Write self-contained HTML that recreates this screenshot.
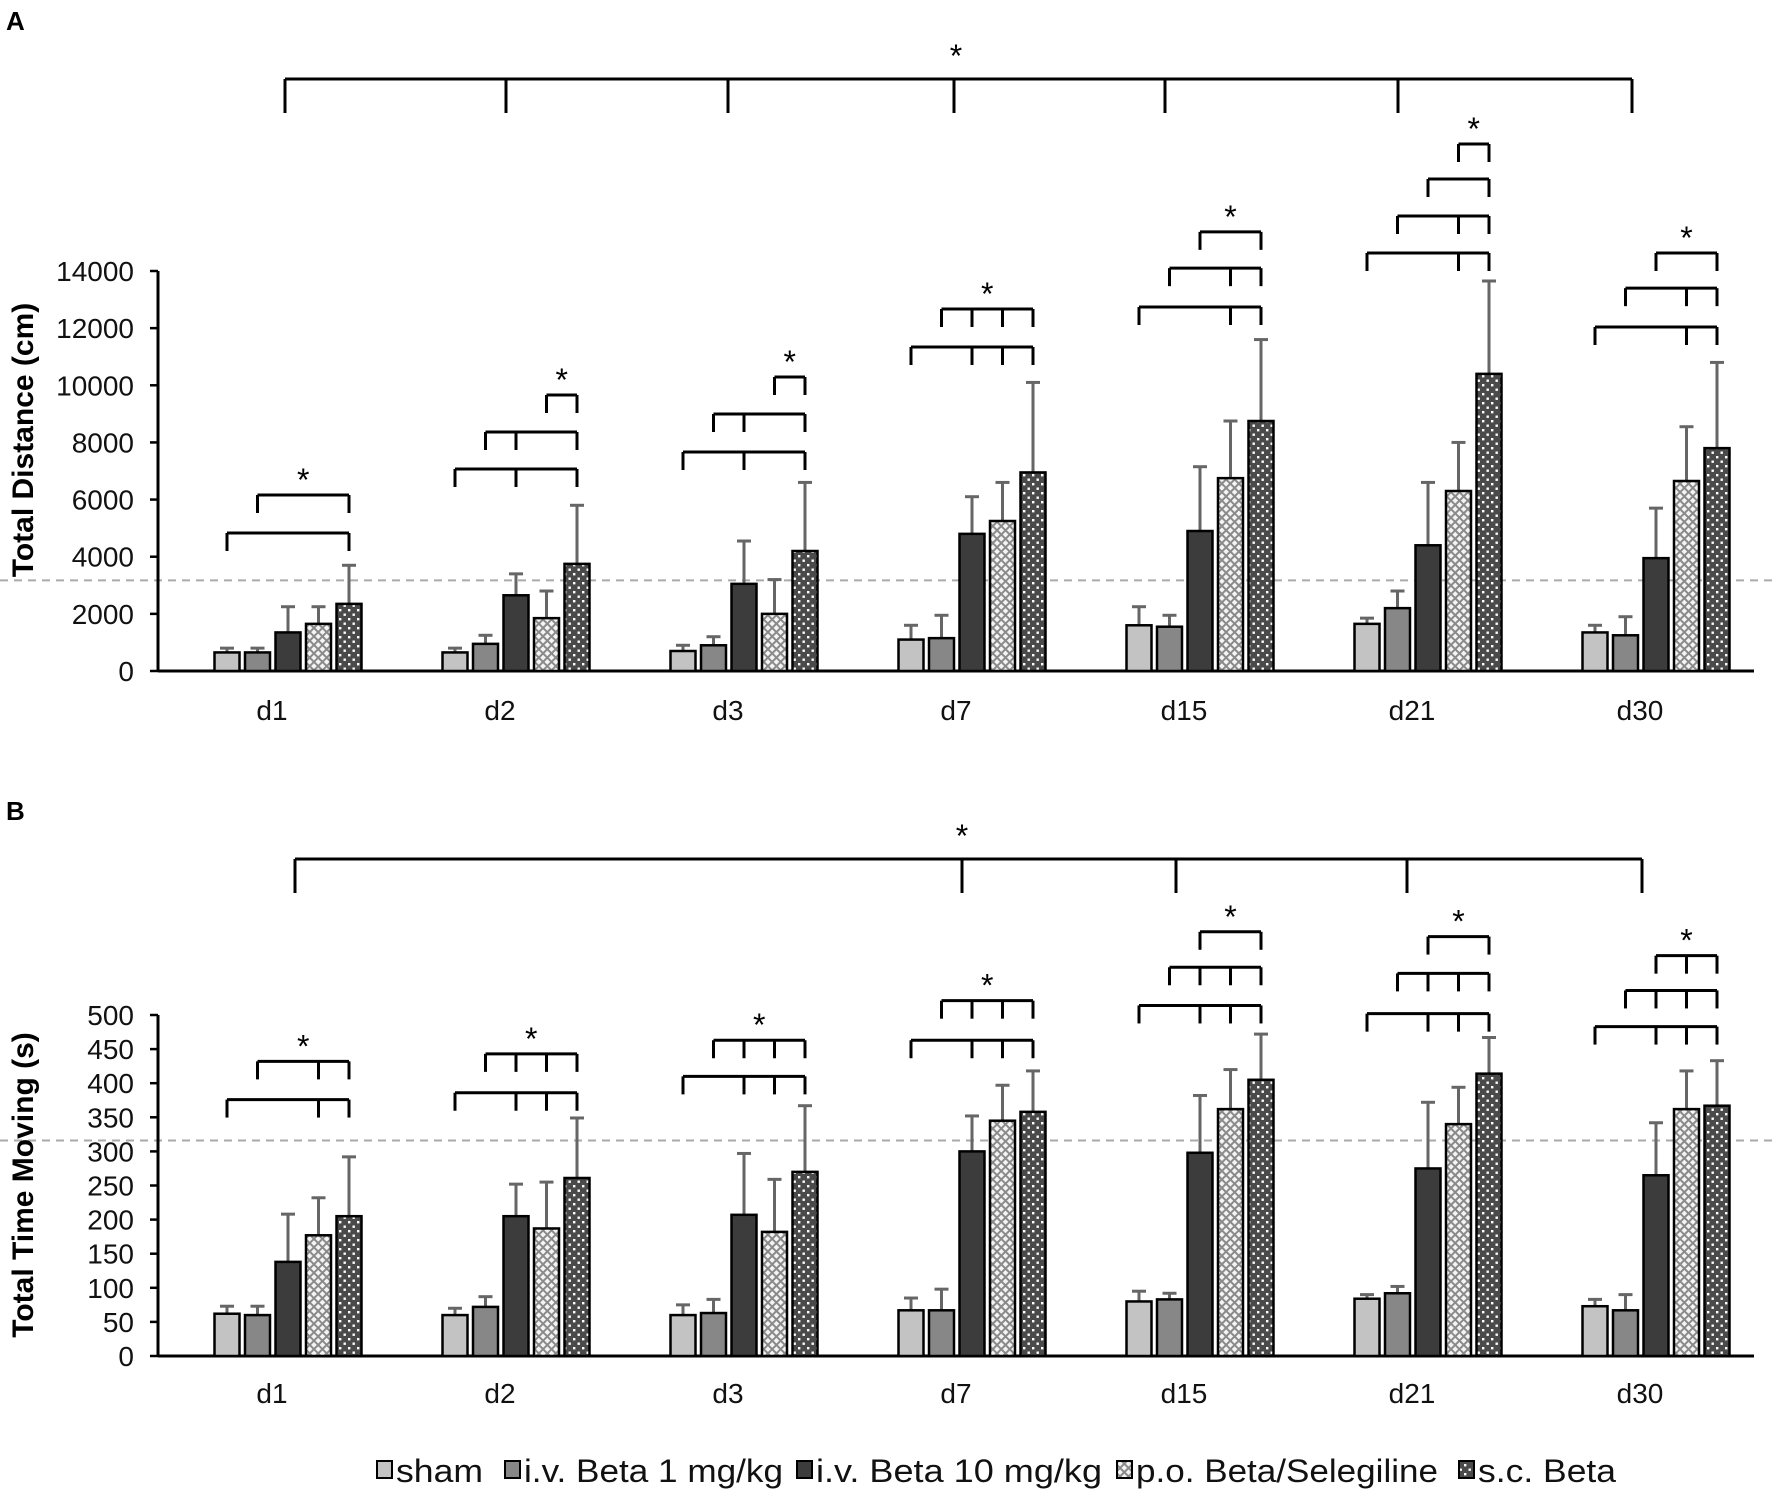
<!DOCTYPE html>
<html><head><meta charset="utf-8">
<style>
html,body{margin:0;padding:0;background:#fff;}
svg{display:block;font-family:"Liberation Sans",Arial,sans-serif;}
</style></head>
<body>
<svg id="fig" width="1772" height="1492" viewBox="0 0 1772 1492" xmlns="http://www.w3.org/2000/svg">
<defs>
<pattern id="patPo" width="6" height="6" patternUnits="userSpaceOnUse" patternTransform="rotate(45)">
<rect width="6" height="6" fill="#8a8a8a"/>
<rect x="1" y="1" width="4" height="4" fill="#f4f4f4"/>
</pattern>
<pattern id="patSc" width="9" height="9" patternUnits="userSpaceOnUse">
<rect width="9" height="9" fill="#4a4a4a"/>
<rect x="1.5" y="1.5" width="2.4" height="2.4" fill="#fff"/>
<rect x="6" y="6" width="2.4" height="2.4" fill="#fff"/>
</pattern>
</defs>
<text x="6" y="30" font-size="26" font-weight="bold">A</text>
<text x="6" y="820" font-size="26" font-weight="bold">B</text>
<g id="gA"></g>
<g id="gB"></g>
<g id="legend"></g>
</svg>
<script>
// ---- data ----
const categories = ["d1","d2","d3","d7","d15","d21","d30"];
const seriesNames = ["sham","i.v. Beta 1 mg/kg","i.v. Beta 10 mg/kg","p.o. Beta/Selegiline","s.c. Beta"];
// Panel A: Total Distance (cm)
const distSham  = [650, 650, 700, 1100, 1600, 1650, 1350];
const distIvb1  = [650, 950, 900, 1150, 1550, 2200, 1250];
const distIvb10 = [1350, 2650, 3050, 4800, 4900, 4400, 3950];
const distPo    = [1650, 1850, 2000, 5250, 6750, 6300, 6650];
const distSc    = [2350, 3750, 4200, 6950, 8750, 10400, 7800];
const distShamErr  = [800, 800, 900, 1600, 2250, 1850, 1600];
const distIvb1Err  = [800, 1250, 1200, 1950, 1950, 2800, 1900];
const distIvb10Err = [2250, 3400, 4550, 6100, 7150, 6600, 5700];
const distPoErr    = [2250, 2800, 3200, 6600, 8750, 8000, 8550];
const distScErr    = [3700, 5800, 6600, 10100, 11600, 13650, 10800];
const distTicks = [0,2000,4000,6000,8000,10000,12000,14000];
const distRef = 3170;
// Panel B: Total Time Moving (s)
const timeSham  = [62, 60, 60, 67, 80, 84, 73];
const timeIvb1  = [60, 72, 63, 67, 83, 92, 67];
const timeIvb10 = [138, 205, 207, 300, 298, 275, 265];
const timePo    = [177, 187, 182, 345, 362, 340, 362];
const timeSc    = [205, 261, 270, 358, 405, 414, 367];
const timeShamErr  = [73, 70, 75, 85, 95, 90, 83];
const timeIvb1Err  = [73, 87, 83, 98, 92, 102, 90];
const timeIvb10Err = [208, 252, 297, 352, 382, 372, 342];
const timePoErr    = [232, 255, 259, 397, 420, 394, 418];
const timeScErr    = [292, 349, 367, 418, 472, 467, 433];
const timeTicks = [0,50,100,150,200,250,300,350,400,450,500];
const timeRef = 316;
// significance brackets: [category index, level value, tick bar indices]
const distBrackets = [
 [0,4830,[0,4]],[0,6160,[1,4]],
 [1,7070,[0,2,4]],[1,8365,[1,2,4]],[1,9660,[3,4]],
 [2,7665,[0,2,4]],[2,8995,[1,2,4]],[2,10290,[3,4]],
 [3,11340,[0,2,3,4]],[3,12670,[1,2,3,4]],
 [4,12740,[0,3,4]],[4,14100,[1,3,4]],[4,15370,[2,4]],
 [5,14630,[0,3,4]],[5,15925,[1,3,4]],[5,17220,[2,4]],[5,18445,[3,4]],
 [6,12040,[0,3,4]],[6,13400,[1,3,4]],[6,14630,[2,4]]
];
const timeBrackets = [
 [0,376,[0,3,4]],[0,432,[1,3,4]],
 [1,386,[0,2,3,4]],[1,443,[1,2,3,4]],
 [2,410,[0,2,3,4]],[2,463,[1,2,3,4]],
 [3,463,[0,2,3,4]],[3,521,[1,2,3,4]],
 [4,514,[0,2,3,4]],[4,570,[1,2,3,4]],[4,622,[2,4]],
 [5,502,[0,2,3,4]],[5,561,[1,2,3,4]],[5,615,[2,4]],
 [6,483,[0,2,3,4]],[6,536,[1,2,3,4]],[6,587,[2,3,4]]
];
const distTopCats = [0,1,2,3,4,5,6];
const timeTopCats = [0,3,4,5,6];

// ---- drawing ----
const NS="http://www.w3.org/2000/svg";
function mk(parent,tag,attrs,name){
  const e=document.createElementNS(NS,tag);
  for(const k in attrs)e.setAttribute(k,attrs[k]);
  
  
  parent.appendChild(e);return e;
}
const fills=["#c3c3c3","#878787","#3c3c3c","url(#patPo)","url(#patSc)"];
const AX0=158, AX1=1754, PITCH=228, GOFF=130, BARP=30.5, BARW=25;
function catX(i){return AX0+PITCH*i+GOFF;}
function labX(i){return AX0+PITCH*i+114;}
function barX(i,s){return catX(i)+(s-2)*BARP;}

function panel(g,cfg){
  const y=v=>cfg.y0-(v/cfg.max)*(cfg.y0-cfg.yTop);
  mk(g,'line',{x1:0,x2:1772,y1:y(cfg.ref),y2:y(cfg.ref),stroke:'#aaa','stroke-width':2,'stroke-dasharray':'8 6'},'reference-line');
  mk(g,'line',{x1:AX0,x2:AX0,y1:cfg.yTop,y2:cfg.y0,stroke:'#000','stroke-width':3},'y-axis');
  mk(g,'line',{x1:AX0,x2:AX1,y1:cfg.y0,y2:cfg.y0,stroke:'#000','stroke-width':3},'x-axis');
  cfg.ticks.forEach(t=>{
    mk(g,'line',{x1:AX0-8,x2:AX0,y1:y(t),y2:y(t),stroke:'#000','stroke-width':2.5},'y-tick');
    const tx=mk(g,'text',{x:134,y:y(t)+10,'font-size':28,'text-anchor':'end',fill:'#111'},'y-tick-label');
    tx.textContent=t;
  });
  const yt=mk(g,'text',{x:0,y:0,'font-size':30,'font-weight':'bold','text-anchor':'middle',transform:`translate(33,${cfg.titleY}) rotate(-90)`},'y-axis-title');
  yt.textContent=cfg.title;
  categories.forEach((c,i)=>{
    const t=mk(g,'text',{x:labX(i),y:cfg.labY,'font-size':28,'text-anchor':'middle',fill:'#111'},'category-label-'+c);
    t.textContent=c;
  });
  cfg.series.forEach((vals,s)=>{
    vals.forEach((v,i)=>{
      const bx=barX(i,s), top=y(v), e=cfg.errs[s][i];
      mk(g,'line',{x1:bx,x2:bx,y1:y(e),y2:top,stroke:'#666','stroke-width':3},'error-bar');
      mk(g,'line',{x1:bx-7,x2:bx+7,y1:y(e),y2:y(e),stroke:'#666','stroke-width':3},'error-cap');
      mk(g,'rect',{x:bx-BARW/2,y:top,width:BARW,height:cfg.y0-top,fill:fills[s],stroke:'#000','stroke-width':2.5},'bar-'+categories[i]+'-s'+s);
    });
  });
  const topLevel={};
  cfg.brackets.forEach(b=>{
    const [ci,lv,ticks]=b, by=y(lv);
    const xs=ticks.map(s=>barX(ci,s));
    mk(g,'line',{x1:xs[0],x2:xs[xs.length-1],y1:by,y2:by,stroke:'#000','stroke-width':3},'significance-bracket');
    xs.forEach(x=>mk(g,'line',{x1:x,x2:x,y1:by,y2:by+18,stroke:'#000','stroke-width':3},'bracket-tick'));
    if(topLevel[ci]===undefined||by<topLevel[ci].y)topLevel[ci]={y:by,x:(xs[0]+xs[xs.length-1])/2};
  });
  Object.keys(topLevel).forEach(k=>{
    const t=mk(g,'text',{x:topLevel[k].x,y:topLevel[k].y-4,'font-size':32,'text-anchor':'middle'},'significance-star');
    t.textContent='*';
  });
  const xs=cfg.topCats.map(i=>cfg.topX[i]);
  mk(g,'line',{x1:xs[0],x2:xs[xs.length-1],y1:cfg.topY,y2:cfg.topY,stroke:'#000','stroke-width':3},'overall-bracket');
  xs.forEach(x=>mk(g,'line',{x1:x,x2:x,y1:cfg.topY,y2:cfg.topY+34,stroke:'#000','stroke-width':3},'overall-bracket-tick'));
  const st=mk(g,'text',{x:cfg.starX,y:cfg.topY-12,'font-size':32,'text-anchor':'middle'},'overall-star');
  st.textContent='*';
}
panel(document.getElementById('gA'),{
  y0:671,yTop:271,max:14000,ticks:distTicks,ref:distRef,title:'Total Distance  (cm)',titleY:440,labY:720,
  series:[distSham,distIvb1,distIvb10,distPo,distSc],
  errs:[distShamErr,distIvb1Err,distIvb10Err,distPoErr,distScErr],
  brackets:distBrackets,topCats:distTopCats,topX:[285,506,728,954,1165,1398,1632],topY:79,starX:956
});
panel(document.getElementById('gB'),{
  y0:1356,yTop:1015,max:500,ticks:timeTicks,ref:timeRef,title:'Total Time Moving (s)',titleY:1185,labY:1403,
  series:[timeSham,timeIvb1,timeIvb10,timePo,timeSc],
  errs:[timeShamErr,timeIvb1Err,timeIvb10Err,timePoErr,timeScErr],
  brackets:timeBrackets,topCats:timeTopCats,topX:[295,0,0,962,1176,1407,1642],topY:859,starX:962
});
const lg=document.getElementById('legend');
const legBox=[377,505,797,1117,1459];
const legEnd=[483,783,1102,1438,1616];
seriesNames.forEach((n,s)=>{
  mk(lg,'rect',{x:legBox[s],y:1461,width:15,height:17,fill:fills[s],stroke:'#000','stroke-width':2},'legend-swatch-'+s);
  const t=mk(lg,'text',{x:legBox[s]+19,y:1482,'font-size':32,textLength:legEnd[s]-legBox[s]-19,lengthAdjust:'spacingAndGlyphs',fill:'#111'},'legend-entry-'+s);
  t.textContent=n;
});
</script>
</body></html>
